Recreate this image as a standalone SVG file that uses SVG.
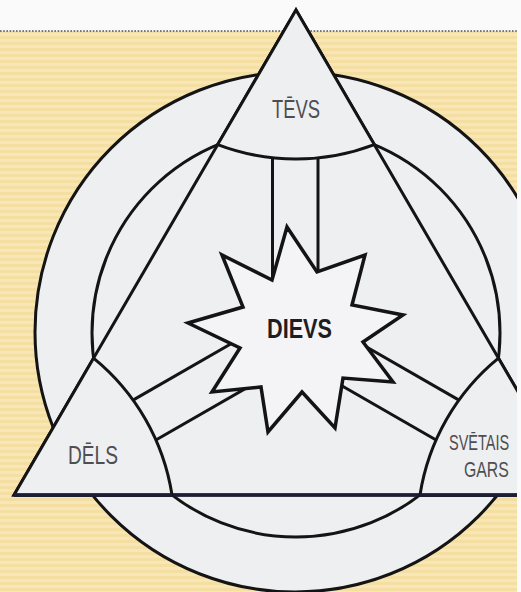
<svg xmlns="http://www.w3.org/2000/svg" width="521" height="592" viewBox="0 0 521 592">
  <defs>
    <pattern id="stripes" width="8" height="6" patternUnits="userSpaceOnUse">
      <rect width="8" height="6" fill="#f4dea2"/>
      <rect y="3" width="8" height="3" fill="#f7e6b8"/>
    </pattern>
    <clipPath id="clip">
      <rect x="0" y="0" width="517" height="592"/>
    </clipPath>
    <style>
      .ln { stroke: #141414; stroke-width: 3; fill: none; stroke-linejoin: miter; }
      .area { fill: #eeeff1; stroke: #141414; stroke-width: 3; stroke-linejoin: miter; }
      .lbl { font-family: "Liberation Sans", Arial, sans-serif; font-size: 26px; fill: #4e4e52; }
      .sm { font-size: 22px; }
      .main { font-family: "Liberation Sans", Arial, sans-serif; font-size: 27px; font-weight: bold; fill: #1e1e22; }
    </style>
  </defs>

  <rect x="0" y="0" width="521" height="592" fill="#fafafa"/>
  <g clip-path="url(#clip)">
    <rect x="0" y="31" width="517" height="561" fill="url(#stripes)"/>
    <line x1="0" y1="31" x2="521" y2="31" stroke="#555" stroke-width="1.6" stroke-dasharray="1.6 1.6"/>

    <g id="background-shapes">
      <circle cx="295" cy="332" r="260" class="area"/>
      <circle cx="296" cy="333" r="204" class="ln"/>
      <polygon points="296,10 14,495 578,495" class="area"/>
      <line x1="14" y1="495" x2="578" y2="495" stroke="#1c1c36" stroke-width="3.5"/>
    </g>

    <g id="connectors" class="ln">
      <line x1="272.5" y1="157.8" x2="272.5" y2="300"/>
      <line x1="318" y1="157.9" x2="318" y2="300"/>
      <line x1="133" y1="400.1" x2="249.8" y2="333"/>
      <line x1="155.9" y1="440" x2="272.8" y2="372.8"/>
      <line x1="459" y1="400.1" x2="342.2" y2="333"/>
      <line x1="436.1" y1="440" x2="319.2" y2="372.8"/>
    </g>

    <g id="dievs">
      <polygon points="287,227 317,272 365,255 352,305 403,315 363,342 393,382 343,378 335,428 302,392 268,432 261,387 212,392 240,348 188,323 243,307 222,255 272,280" fill="#f4f4f6" stroke="#141414" stroke-width="3.5" stroke-linejoin="miter"/>
      <text x="267" y="338" class="main" textLength="65" lengthAdjust="spacingAndGlyphs">DIEVS</text>
    </g>

    <g id="tevs">
      <path d="M296 10 L217.7 144.6 A220 220 0 0 0 374.3 144.6 Z" class="area"/>
      <text x="272" y="118" class="lbl" textLength="48" lengthAdjust="spacingAndGlyphs">TĒVS</text>
    </g>

    <g id="dels">
      <path d="M14 495 L93.5 358.2 A220 220 0 0 1 172 495 Z" class="area"/>
      <line x1="14" y1="495" x2="172" y2="495" stroke="#1c1c36" stroke-width="3.5"/>
      <text x="68" y="464" class="lbl" textLength="50" lengthAdjust="spacingAndGlyphs">DĒLS</text>
    </g>

    <g id="svetais-gars">
      <path d="M578 495 L420 495 A220 220 0 0 1 498.5 358.2 Z" class="area"/>
      <line x1="420" y1="495" x2="578" y2="495" stroke="#1c1c36" stroke-width="3.5"/>
    </g>
  </g>
  <g id="svetais-gars-label">
    <text transform="translate(449 450) scale(0.66 1)" x="0" y="0" class="lbl sm">SVĒTAIS</text>
    <text transform="translate(464 477) scale(0.72 1)" x="0" y="0" class="lbl sm">GARS</text>
  </g>
</svg>
